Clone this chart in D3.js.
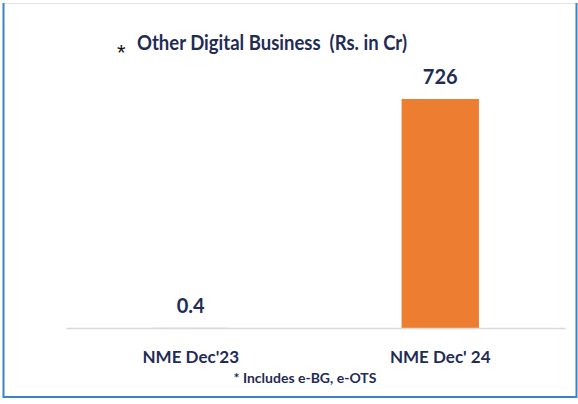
<!DOCTYPE html>
<html>
<head>
<meta charset="utf-8">
<script src="https://cdn.jsdelivr.net/npm/d3@7"></script>
<style>
  body { margin: 0; background: #fff; }
  text { font-family: Lato, "Open Sans", sans-serif; font-weight: bold; fill: #1f2c56; }
</style>
</head>
<body>
<svg id="vis" width="578" height="404"></svg>
<script>
let categories = ["NME Dec'23", "NME Dec' 24"];
let values = [0.4, 726];
let valueLabels = ["0.4", "726"];
let title = "Other Digital Business  (Rs. in Cr)";
let footnote = "* Includes e-BG, e-OTS";

let svg = d3.select("#vis");

// frame
svg.append("line").attr("x1", 3).attr("x2", 576).attr("y1", 3.5).attr("y2", 3.5)
  .attr("stroke", "#e4e4e4").attr("stroke-width", 1);
svg.append("path")
  .attr("d", "M3.5,3 V397 H576.5 V3")
  .attr("fill", "none").attr("stroke", "#3b82c9").attr("stroke-width", 2);

let x = d3.scaleBand()
  .domain(categories)
  .range([66, 565])
  .paddingInner(0.69)
  .paddingOuter(0.345);

let y = d3.scaleLinear()
  .domain([0, 726])
  .range([328, 99]);

// bars
svg.selectAll("rect.bar")
  .data(values)
  .enter()
  .append("rect")
  .attr("class", "bar")
  .attr("x", (d, i) => x(categories[i]))
  .attr("width", x.bandwidth())
  .attr("y", d => y(d))
  .attr("height", d => y(0) - y(d))
  .attr("fill", "#ed7d31");

// baseline
let axis = d3.axisBottom(x).tickSize(0).tickPadding(23);
let g = svg.append("g").attr("transform", "translate(0,328)").call(axis);
g.select(".domain").attr("stroke", "#d9d9d9").attr("stroke-width", 1.5);
g.selectAll(".tick text")
  .style("font-family", "Lato, sans-serif")
  .style("font-weight", "bold")
  .style("font-size", "17px")
  .attr("fill", "#1f2c56");

// value labels
svg.selectAll("text.val")
  .data(values)
  .enter()
  .append("text")
  .attr("class", "val")
  .attr("x", (d, i) => x(categories[i]) + x.bandwidth() / 2)
  .attr("y", d => y(d) - 15)
  .attr("text-anchor", "middle")
  .style("font-size", "20px")
  .text((d, i) => valueLabels[i]);

// title
svg.append("text")
  .attr("x", 117).attr("y", 60)
  .style("font-family", "'Liberation Sans', sans-serif")
  .style("font-weight", "normal")
  .style("font-size", "22px")
  .style("fill", "#111")
  .text("*");
svg.append("text")
  .attr("x", 137).attr("y", 50)
  .attr("xml:space", "preserve")
  .style("white-space", "pre")
  .attr("textLength", 270)
  .attr("lengthAdjust", "spacingAndGlyphs")
  .style("font-size", "20px")
  .text(title);

// footnote
svg.append("text")
  .attr("x", 305).attr("y", 383)
  .attr("text-anchor", "middle")
  .style("font-size", "14px")
  .text(footnote);
</script>
</body>
</html>
